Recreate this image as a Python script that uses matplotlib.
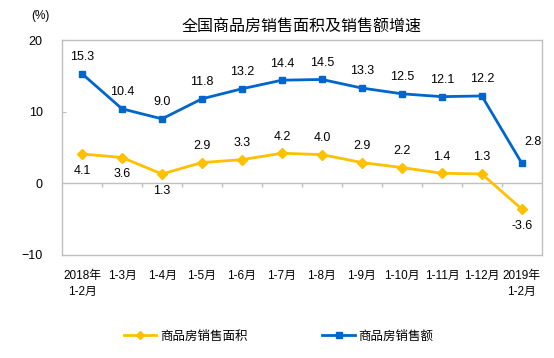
import numpy as np
import matplotlib
matplotlib.use('Agg')
import matplotlib.pyplot as plt

plt.rcParams['font.family'] = ['Liberation Sans', 'Noto Sans CJK SC', 'DejaVu Sans']

# Datos
categorias = ['2018年\n1-2月', '1-3月', '1-4月', '1-5月', '1-6月', '1-7月',
              '1-8月', '1-9月', '1-10月', '1-11月', '1-12月', '2019年\n1-2月']
area = [4.1, 3.6, 1.3, 2.9, 3.3, 4.2, 4.0, 2.9, 2.2, 1.4, 1.3, -3.6]
ventas = [15.3, 10.4, 9.0, 11.8, 13.2, 14.4, 14.5, 13.3, 12.5, 12.1, 12.2, 2.8]

# posicion de la etiqueta del area: 1 = arriba, -1 = abajo
pos_area = [-1, -1, -1, 1, 1, 1, 1, 1, 1, 1, 1, -1]

amarillo = '#FFC000'
azul = '#0066CC'
gris = '#BFBFBF'

x = np.arange(len(categorias))

fig = plt.figure(figsize=(5.54, 3.58), dpi=100)
ax = fig.add_axes([0.112, 0.288, 0.866, 0.600])

ax.plot(x, area, color=amarillo, lw=2, marker='D', ms=5, label='商品房销售面积')
ax.plot(x, ventas, color=azul, lw=2, marker='s', ms=5, label='商品房销售额')

# Etiquetas de datos
for i, v in enumerate(ventas):
    if i == len(ventas) - 1:
        ax.annotate(f'{v:.1f}', (x[i], v), xytext=(8, 15), textcoords='offset points',
                    ha='center', va='center', fontsize=9)
    else:
        ax.annotate(f'{v:.1f}', (x[i], v), xytext=(0, 12), textcoords='offset points',
                    ha='center', va='center', fontsize=9)
for i, v in enumerate(area):
    ax.annotate(f'{v:.1f}', (x[i], v), xytext=(0, 12 * pos_area[i]), textcoords='offset points',
                ha='center', va='center', fontsize=9)

# Linea del cero con marcas entre categorias
ax.axhline(0, color=gris, lw=1, zorder=0)
ax.vlines(x[:-1] + 0.5, -0.45, 0, color=gris, lw=1, zorder=0)

ax.set_xlim(-0.5, len(categorias) - 0.5)
ax.set_ylim(-10, 20)
ax.set_yticks([-10, 0, 10, 20])
ax.set_xticks(x)
ax.set_xticklabels(categorias, fontsize=8.5, linespacing=1.4)
ax.tick_params(axis='x', length=0, pad=11)
ax.tick_params(axis='y', direction='in', length=3, color=gris, labelsize=9, pad=14)
for s in ax.spines.values():
    s.set_color(gris)
    s.set_linewidth(1)

fig.text(0.545, 0.925, '全国商品房销售面积及销售额增速', ha='center', va='center', fontsize=11.5)
fig.text(0.073, 0.955, '(%)', ha='center', va='center', fontsize=8.5)

fig.legend(loc='center', bbox_to_anchor=(0.503, 0.06), ncol=2, frameon=False,
           fontsize=9, columnspacing=6.0, handlelength=2.6, handletextpad=0.3,
           markerscale=0.8)

fig.savefig('out.png', dpi=100)
